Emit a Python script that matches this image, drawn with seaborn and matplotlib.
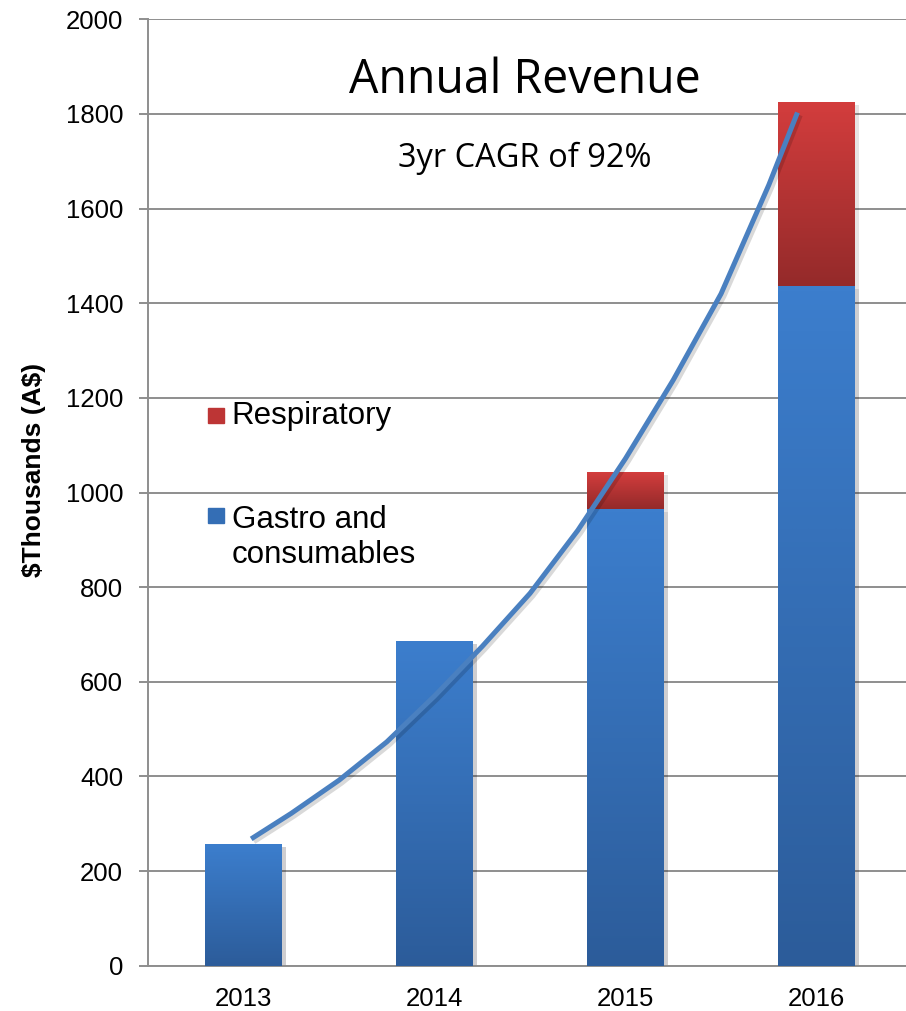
import numpy as np
import matplotlib
matplotlib.use("Agg")
import matplotlib.pyplot as plt
import matplotlib.patheffects as pe
from matplotlib.colors import LinearSegmentedColormap
from matplotlib.patches import Rectangle
import seaborn as sns

# ---------------- data ----------------
years = ["2013", "2014", "2015", "2016"]
gastro = [257, 685, 965, 1435]
respiratory = [0, 0, 78, 390]

# points along the hand-drawn growth curve (category position, $k)
trend_pos = [0.04, 0.25, 0.50, 0.75, 1.00, 1.25, 1.50, 1.75, 2.00, 2.25, 2.50, 2.75, 2.90]
trend_val = [268, 322, 392, 473, 570, 675, 787, 920, 1072, 1238, 1420, 1650, 1803]

totals = [g + r for g, r in zip(gastro, respiratory)]

BLUE_TOP, BLUE_BOT = "#3c7ecd", "#2c5c9a"
RED_TOP, RED_BOT = "#d33d3d", "#942a2a"
GREY = "#8e8e8e"


def shade(ax, patch, lo, hi, top, bottom, z):
    # vertical gradient over one bar segment
    x0, w = patch.get_x(), patch.get_width()
    cmap = LinearSegmentedColormap.from_list("g", [bottom, top])
    grad = np.linspace(0, 1, 128).reshape(-1, 1)
    ax.imshow(grad, extent=(x0, x0 + w, lo, hi), origin="lower", aspect="auto",
              cmap=cmap, zorder=z, interpolation="bicubic")


sns.set_style("white")
plt.rcParams["font.family"] = ["Liberation Sans", "DejaVu Sans"]
plt.rcParams["text.color"] = "black"
plt.rcParams["axes.labelcolor"] = "black"
plt.rcParams["xtick.color"] = "black"
plt.rcParams["ytick.color"] = "black"

fig = plt.figure(figsize=(9.06, 10.11), dpi=100)
ax = fig.add_axes([0.1634, 0.0448, 0.8433, 0.9361])

shadow = [pe.SimplePatchShadow(offset=(3, -2), alpha=0.11), pe.Normal()]
sns.barplot(x=years, y=totals, color=RED_BOT, width=0.4, saturation=1, ax=ax, zorder=2)
sns.barplot(x=years, y=gastro, color=BLUE_BOT, width=0.4, saturation=1, ax=ax, zorder=2)

n = len(years)
for i, p in enumerate(ax.patches):
    p.set_linewidth(0)
    p.set_path_effects(shadow)
    if i < n:
        if respiratory[i] > 0:
            shade(ax, p, gastro[i], totals[i], RED_TOP, RED_BOT, 3)
    else:
        j = i - n
        shade(ax, p, 0, gastro[j], BLUE_TOP, BLUE_BOT, 3)

sns.lineplot(x=trend_pos, y=trend_val, sort=False, color="#4a80c0", lw=3.6, ax=ax,
             zorder=5, solid_capstyle="butt", solid_joinstyle="round",
             path_effects=[pe.SimpleLineShadow(offset=(2, -2), alpha=0.15), pe.Normal()])

ax.set_xlim(-0.5, 3.5)
ax.set_ylim(0, 2000)
ax.set_yticks(range(0, 2001, 200))
ax.set_axisbelow(True)
ax.yaxis.grid(True, color=GREY, lw=1.4)
ax.xaxis.grid(False)

for s in ["top", "right"]:
    ax.spines[s].set_visible(False)
for s in ["left", "bottom"]:
    ax.spines[s].set_color(GREY)
    ax.spines[s].set_linewidth(1.4)

ax.set_xticks(range(n))
ax.set_xticklabels(years)
ax.set_xticks(np.arange(-0.5, n, 1.0), minor=True)
ax.tick_params(axis="x", which="major", length=0, pad=15, labelsize=18.5)
ax.tick_params(axis="x", which="minor", length=5, width=1.4, color=GREY, direction="out")
ax.tick_params(axis="y", length=6.5, width=1.4, color=GREY, direction="out",
               pad=11.5, labelsize=18.5, left=True)
ax.set_xlabel("")
ax.set_ylabel(r"\$Thousands (A\$)", fontsize=19, fontweight="bold")
ax.yaxis.set_label_coords(-0.1335, 0.5238)

# titles inside the plot area
ax.text(0.4928, 0.9224, "Annual Revenue", transform=ax.transAxes, ha="center",
        va="baseline", fontsize=33.5, family=["Open Sans", "DejaVu Sans"])
ax.text(0.4935, 0.8443, "3yr CAGR of 92%", transform=ax.transAxes, ha="center",
        va="baseline", fontsize=23.5, family=["Open Sans", "DejaVu Sans"])

# legend, drawn by hand so the swatch sits on the first text line
ax.add_patch(Rectangle((0.0785, 0.5738), 0.0209, 0.0159, transform=ax.transAxes,
                       color="#bd3535", zorder=6))
ax.add_patch(Rectangle((0.0785, 0.4678), 0.0209, 0.0159, transform=ax.transAxes,
                       color="#346eb5", zorder=6))
ax.text(0.1096, 0.5724, "Respiratory", transform=ax.transAxes, fontsize=22.5, va="baseline")
ax.text(0.1096, 0.4628, "Gastro and", transform=ax.transAxes, fontsize=22.5, va="baseline")
ax.text(0.1096, 0.4252, "consumables", transform=ax.transAxes, fontsize=22.5, va="baseline")

fig.savefig("out.png", dpi=100)
